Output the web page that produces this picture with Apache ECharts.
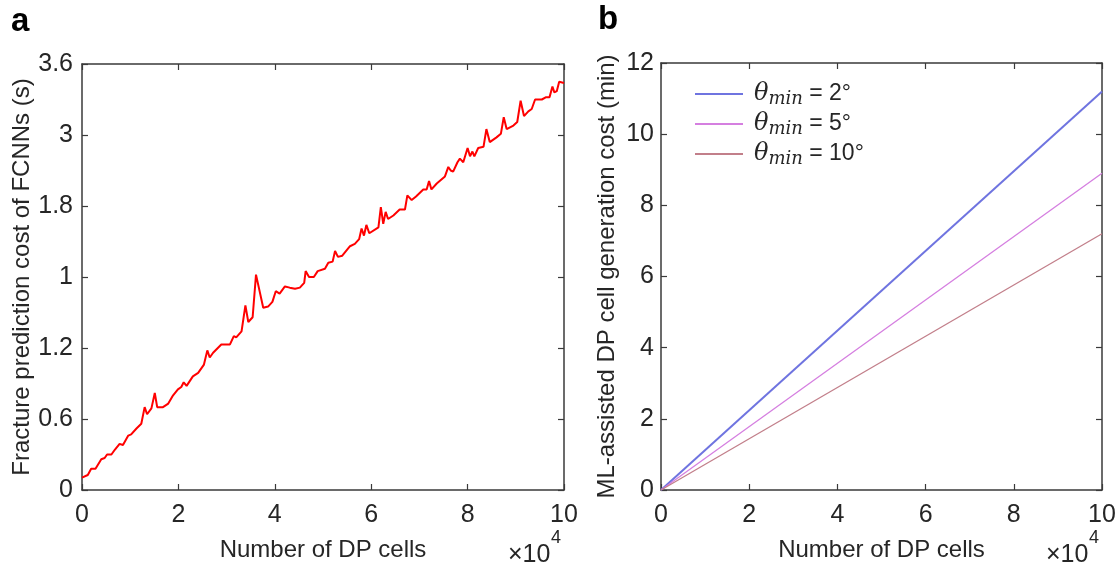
<!DOCTYPE html>
<html>
<head>
<meta charset="utf-8">
<script src="https://cdn.jsdelivr.net/npm/echarts@6/dist/echarts.min.js"></script>
<style>
html,body{margin:0;padding:0;background:#fff;}
#chart{width:1119px;height:567px;}
</style>
</head>
<body>
<div id="chart"></div>
<script>
// ---- Panel a: fracture prediction cost of FCNNs ----
const fcnnX = [0,0.12,0.19,0.28,0.40,0.47,0.52,0.61,0.68,0.78,0.85,0.96,1.02,1.13,1.23,1.30,1.35,1.44,1.51,1.56,1.68,1.79,1.89,1.99,2.06,2.11,2.17,2.30,2.41,2.53,2.60,2.65,2.72,2.89,3.07,3.15,3.20,3.31,3.39,3.45,3.54,3.61,3.76,3.86,3.95,4.02,4.10,4.21,4.31,4.42,4.52,4.61,4.64,4.71,4.81,4.89,5.04,5.11,5.20,5.25,5.31,5.40,5.56,5.66,5.75,5.80,5.85,5.90,5.96,6.15,6.20,6.25,6.30,6.35,6.46,6.59,6.70,6.75,6.84,6.93,7.08,7.15,7.20,7.25,7.36,7.53,7.60,7.65,7.70,7.79,7.84,7.91,8.00,8.05,8.10,8.14,8.22,8.33,8.39,8.46,8.60,8.69,8.75,8.81,8.95,9.03,9.10,9.17,9.26,9.33,9.40,9.54,9.63,9.70,9.76,9.80,9.85,9.90,10.0];
const fcnnCost = [0.104,0.127,0.18,0.18,0.26,0.27,0.30,0.30,0.34,0.39,0.38,0.46,0.47,0.52,0.56,0.70,0.64,0.69,0.82,0.70,0.70,0.73,0.80,0.85,0.87,0.91,0.88,0.96,0.99,1.06,1.18,1.12,1.16,1.23,1.23,1.30,1.29,1.34,1.56,1.42,1.46,1.82,1.54,1.55,1.59,1.68,1.66,1.72,1.71,1.70,1.71,1.75,1.85,1.80,1.80,1.85,1.87,1.92,1.93,2.02,1.97,1.98,2.06,2.08,2.12,2.21,2.15,2.24,2.17,2.22,2.39,2.25,2.35,2.29,2.32,2.37,2.37,2.49,2.45,2.48,2.54,2.54,2.61,2.54,2.59,2.65,2.73,2.70,2.69,2.77,2.80,2.77,2.89,2.82,2.86,2.82,2.89,2.90,3.05,2.94,2.98,3.01,3.15,3.05,3.08,3.11,3.29,3.16,3.20,3.22,3.30,3.30,3.32,3.32,3.41,3.36,3.37,3.45,3.44];
const fcnnYTickLabels = ['0','0.6','1.2','1','1.8','3','3.6'];
const xTickLabels = ['0','2','4','6','8','10'];

// ---- Panel b: ML-assisted DP cell generation cost ----
const genX = [0, 10];
const theta2 = [0, 11.2];
const theta5 = [0, 8.9];
const theta10 = [0, 7.2];
const thetaAngles = ['2°','5°','10°'];

const FONT = 'Liberation Sans, Arial, Helvetica, sans-serif';
const TXT = '#262626';
const AX = '#3a3a3a';

function pairs(xs, ys){ return xs.map((x,i)=>[x, ys[i]]); }

function xAxisDef(grid, pos, showLabel, name){
  return {
    type:'value', gridIndex:grid, position:pos, min:0, max:10, interval:2,
    axisLine:{show:true, onZero:false, lineStyle:{color:AX, width:1.5}},
    axisTick:{show:true, inside:true, length:6, lineStyle:{color:AX, width:1.2}},
    splitLine:{show:false},
    axisLabel:{show:showLabel, color:TXT, fontSize:25, fontFamily:FONT, margin:13,
      formatter:(v)=>xTickLabels[Math.round(v/2)]},
    name: name || '', nameLocation:'middle', nameGap:48,
    nameTextStyle:{color:TXT, fontSize:24, fontFamily:FONT}
  };
}

function yAxisDef(grid, pos, showLabel, min, max, interval, fmt, name, gap, margin){
  return {
    type:'value', gridIndex:grid, position:pos, min:min, max:max, interval:interval,
    axisLine:{show:true, onZero:false, lineStyle:{color:AX, width:1.5}},
    axisTick:{show:true, inside:true, length:6, lineStyle:{color:AX, width:1.2}},
    splitLine:{show:false},
    axisLabel:{show:showLabel, color:TXT, fontSize:25, fontFamily:FONT, margin:margin || 9, formatter:fmt},
    name: name || '', nameLocation:'middle', nameGap:gap || 48, nameRotate:90,
    nameTextStyle:{color:TXT, fontSize:24, fontFamily:FONT}
  };
}

const legendNames = thetaAngles.map(a => 'θmin = ' + a);
const lineColors = ['#6f74e0', '#d57fe0', '#c27f8a'];

const chart = echarts.init(document.getElementById('chart'), null, {renderer:'canvas'});
chart.setOption({
  backgroundColor:'#ffffff',
  animation:false,
  textStyle:{fontFamily:FONT},
  grid:[
    {left:82, top:64, width:482, height:426},
    {left:661, top:63, width:441, height:427}
  ],
  xAxis:[
    xAxisDef(0,'bottom',true,'Number of DP cells'),
    xAxisDef(0,'top',false),
    xAxisDef(1,'bottom',true,'Number of DP cells'),
    xAxisDef(1,'top',false)
  ],
  yAxis:[
    yAxisDef(0,'left',true,0,3.6,0.6,(v)=>fcnnYTickLabels[Math.round(v/0.6)],'Fracture prediction cost of FCNNs (s)',46,9),
    yAxisDef(0,'right',false,0,3.6,0.6,null),
    yAxisDef(1,'left',true,0,12,2,(v)=>String(v),'ML-assisted DP cell generation cost (min)',42,7),
    yAxisDef(1,'right',false,0,12,2,null)
  ],
  legend:{
    show:true,
    orient:'vertical',
    left:695, top:82, padding:0,
    itemWidth:48, itemHeight:2, itemGap:3.5,
    icon:'rect',
    data: legendNames,
    formatter:(name)=>{
      const a = name.split(' = ')[1];
      return '{t|θ}{s|min}{n| = ' + a + '}';
    },
    textStyle:{
      color:TXT,
      rich:{
        t:{fontFamily:'DejaVu Serif, Liberation Serif, serif', fontStyle:'italic', fontSize:24, color:TXT, padding:[0,0,0,6]},
        s:{fontFamily:'DejaVu Serif, Liberation Serif, serif', fontStyle:'italic', fontSize:18, color:TXT, padding:[11,0,0,0]},
        n:{fontFamily:FONT, fontSize:23, color:TXT}
      }
    }
  },
  series:[
    {type:'line', name:'fcnn', xAxisIndex:0, yAxisIndex:0, data:pairs(fcnnX,fcnnCost),
      showSymbol:false, symbol:'none', lineStyle:{color:'#ff0000', width:2}, itemStyle:{color:'#ff0000'}},
    {type:'line', name:legendNames[0], xAxisIndex:2, yAxisIndex:2, data:pairs(genX,theta2),
      showSymbol:false, symbol:'none', lineStyle:{color:lineColors[0], width:2}, itemStyle:{color:lineColors[0]}},
    {type:'line', name:legendNames[1], xAxisIndex:2, yAxisIndex:2, data:pairs(genX,theta5),
      showSymbol:false, symbol:'none', lineStyle:{color:lineColors[1], width:1.3}, itemStyle:{color:lineColors[1]}},
    {type:'line', name:legendNames[2], xAxisIndex:2, yAxisIndex:2, data:pairs(genX,theta10),
      showSymbol:false, symbol:'none', lineStyle:{color:lineColors[2], width:1.3}, itemStyle:{color:lineColors[2]}}
  ],
  graphic:[
    {type:'text', left:11, top:5, style:{text:'a', font:'bold 33px '+FONT, fill:'#000'}},
    {type:'text', left:598, top:3, style:{text:'b', font:'bold 33px '+FONT, fill:'#000'}},
    {type:'text', left:508, top:543, style:{text:'×10', font:'25px '+FONT, fill:TXT}},
    {type:'text', left:551, top:529, style:{text:'4', font:'18px '+FONT, fill:TXT}},
    {type:'text', left:1046, top:543, style:{text:'×10', font:'25px '+FONT, fill:TXT}},
    {type:'text', left:1089, top:529, style:{text:'4', font:'18px '+FONT, fill:TXT}}
  ]
});
</script>
</body>
</html>
